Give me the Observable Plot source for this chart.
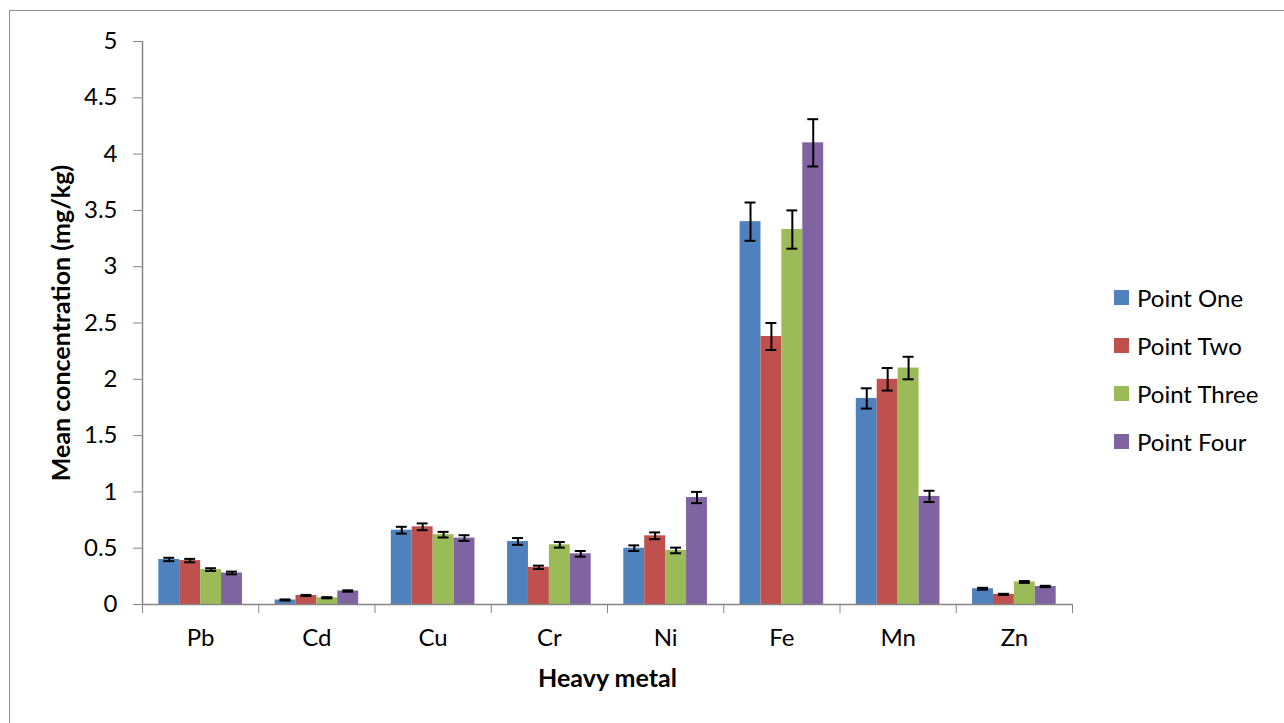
<!DOCTYPE html>
<html><head><meta charset="utf-8">
<script src="https://cdn.jsdelivr.net/npm/d3@7"></script>
<script src="https://cdn.jsdelivr.net/npm/@observablehq/plot@0.6"></script>
<style>
html,body{margin:0;padding:0;background:#fff;overflow:hidden;}
#wrap{position:relative;width:1284px;height:723px;font-family:Lato,sans-serif;overflow:hidden;}
#frame{position:absolute;left:9px;top:10px;width:1300px;height:740px;border:1px solid #8e8e8e;}
#chart{position:absolute;left:0;top:0;}
#legend{position:absolute;left:1114px;top:273px;}
.row{display:flex;align-items:center;height:48px;font-size:24px;color:#000;}
.sw{width:15px;height:15px;margin-right:8px;}
g[aria-label="x-axis label"] text, g[aria-label="y-axis label"] text, text.label{font-weight:bold;font-size:25px;}
</style></head><body><div id="wrap"><div id="frame"></div><div id="chart"></div><div id="legend"></div></div>
<script>
const metals = ["Pb","Cd","Cu","Cr","Ni","Fe","Mn","Zn"];
const series = ["Point One","Point Two","Point Three","Point Four"];
const colors = ["#4F81BD","#C0504D","#9BBB59","#8064A2"];
const pointOne   = [0.40,0.04,0.66,0.56,0.50,3.40,1.83,0.14];
const pointTwo   = [0.39,0.08,0.69,0.33,0.61,2.38,2.00,0.09];
const pointThree = [0.31,0.06,0.62,0.53,0.48,3.33,2.10,0.20];
const pointFour  = [0.28,0.12,0.59,0.45,0.95,4.10,0.96,0.16];
const errOne   = [0.015,0.005,0.03,0.03,0.025,0.17,0.09,0.008];
const errTwo   = [0.015,0.005,0.03,0.015,0.03,0.12,0.10,0.005];
const errThree = [0.012,0.005,0.025,0.025,0.025,0.17,0.10,0.008];
const errFour  = [0.012,0.006,0.025,0.025,0.05,0.21,0.05,0.006];
const yTicks = [0,0.5,1,1.5,2,2.5,3,3.5,4,4.5,5];

const values = [pointOne, pointTwo, pointThree, pointFour];
const errs = [errOne, errTwo, errThree, errFour];
const inner = d3.scaleBand().domain(series).range([0,1]).paddingInner(0).paddingOuter(0.78);
const bw = inner.bandwidth();
const cap = 0.047;
const rows = metals.flatMap((m,i) => series.map((s,j) => ({
  metal: m, i, series: s, value: values[j][i], err: errs[j][i],
  x1: i + inner(s), x2: i + inner(s) + bw, xc: i + inner(s) + bw/2
})));
const axisColor = "#868686";

const chart = Plot.plot({
  width: 1284, height: 723,
  marginLeft: 142, marginRight: 212, marginTop: 41, marginBottom: 119,
  style: {fontFamily: "Lato, sans-serif", fontSize: "24px", color: "#000", background: "transparent"},
  x: {type: "linear", domain: [0, metals.length], axis: null},
  y: {domain: [0, 5], axis: null},
  color: {domain: series, range: colors},
  marks: [
    Plot.rectY(rows, {x1: "x1", x2: "x2", y: "value", fill: "series"}),
    Plot.ruleX(rows, {x: "xc", y1: d => d.value - d.err, y2: d => d.value + d.err, stroke: "black", strokeWidth: 2}),
    Plot.ruleY(rows, {x1: d => d.xc - cap, x2: d => d.xc + cap, y: d => d.value + d.err, stroke: "black", strokeWidth: 2}),
    Plot.ruleY(rows, {x1: d => d.xc - cap, x2: d => d.xc + cap, y: d => d.value - d.err, stroke: "black", strokeWidth: 2}),
    Plot.ruleX([0], {y1: 0, y2: 5, stroke: axisColor, strokeWidth: 1.5}),
    Plot.ruleY([0], {x1: 0, x2: metals.length, stroke: axisColor, strokeWidth: 1.5}),
    Plot.axisY({ticks: yTicks, tickSize: 9, tickPadding: 16, stroke: axisColor, tickFormat: d => String(d),
      label: "Mean concentration (mg/kg)", labelAnchor: "center", labelArrow: "none", labelOffset: 90}),
    Plot.axisX({ticks: d3.range(metals.length + 1), tickSize: 9, tickFormat: () => "", stroke: axisColor, label: null}),
    Plot.axisX({ticks: metals.map((m,i) => i + 0.5), tickSize: 0, tickPadding: 24, tickFormat: t => metals[Math.round(t - 0.5)],
      label: "Heavy metal", labelAnchor: "center", labelArrow: "none", labelOffset: 82})
  ]
});
document.getElementById("chart").appendChild(chart);

const lg = d3.select("#legend");
series.forEach((s, j) => {
  const r = lg.append("div").attr("class", "row");
  r.append("div").attr("class", "sw").style("background", colors[j]);
  r.append("span").text(s);
});
</script></body></html>
